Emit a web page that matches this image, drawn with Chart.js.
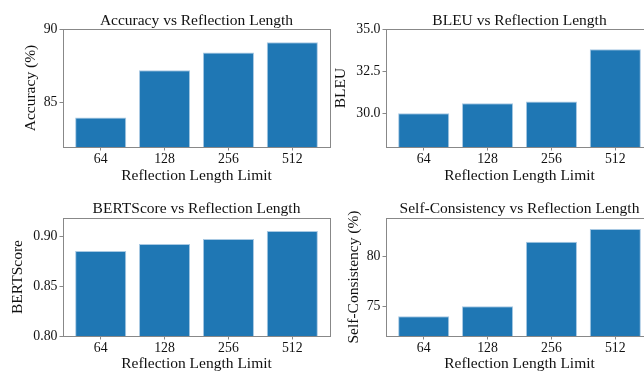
<!DOCTYPE html>
<html>
<head>
<meta charset="utf-8">
<script src="https://cdn.jsdelivr.net/npm/chart.js@4.4.1/dist/chart.umd.min.js"></script>
<style>
  html, body { margin: 0; padding: 0; background: #fff; overflow: hidden; width: 644px; height: 371px; }
  .panel { position: absolute; width: 340px; height: 200px; }
</style>
</head>
<body>
<div class="panel" style="left:0;top:0"><canvas id="acc"></canvas></div>
<div class="panel" style="left:322px;top:0"><canvas id="bleu"></canvas></div>
<div class="panel" style="left:0;top:190px"><canvas id="bert"></canvas></div>
<div class="panel" style="left:322px;top:190px"><canvas id="sc"></canvas></div>
<script>
// reflection length limits (x categories)
const lengthLabels = ["64", "128", "256", "512"];

// series values
const accuracy = [84.0, 87.2, 88.4, 89.1];
const bleu = [30.0, 30.6, 30.7, 33.8];
const bertScore = [0.885, 0.892, 0.897, 0.905];
const selfConsistency = [74.0, 75.0, 81.5, 82.8];

// y tick values
const accTicks = [85, 90];
const bleuTicks = [30.0, 32.5, 35.0];
const bertTicks = [0.80, 0.85, 0.90];
const scTicks = [75, 80];

const serif = "'Liberation Serif', 'Times New Roman', serif";
const textColor = "#111";
const spineColor = "#888";

// draw the box round the axes like matplotlib spines
const frame = {
  id: "frame",
  afterDatasetsDraw(chart) {
    const { ctx, chartArea: a } = chart;
    ctx.save();
    ctx.strokeStyle = spineColor;
    ctx.lineWidth = 1;
    ctx.strokeRect(Math.round(a.left) + 0.5, Math.round(a.top) + 0.5,
      Math.round(a.right - a.left), Math.round(a.bottom - a.top));
    ctx.restore();
  }
};

function makeChart(id, cfg) {
  const ctx = document.getElementById(id);
  return new Chart(ctx, {
    type: "bar",
    data: {
      datasets: [{
        data: cfg.values.map((v, i) => ({ x: i, y: v })),
        backgroundColor: "#1f77b4",
        borderColor: "#a8c9e3",
        borderWidth: 1,
        barPercentage: 0.8,
        categoryPercentage: 1
      }]
    },
    options: {
      responsive: true,
      maintainAspectRatio: false,
      animation: false,
      layout: { padding: { left: 0, right: cfg.padRight, top: 0, bottom: 0 } },
      plugins: {
        legend: { display: false },
        tooltip: { enabled: false },
        title: {
          display: true,
          fullSize: false,
          text: cfg.title,
          color: textColor,
          font: { family: serif, size: 15.5, weight: "normal", lineHeight: 1.2 },
          padding: { top: cfg.titleTop, bottom: cfg.titleBottom }
        }
      },
      scales: {
        x: {
          type: "linear",
          min: -0.59,
          max: 3.59,
          offset: false,
          afterBuildTicks: (s) => { s.ticks = lengthLabels.map((_, i) => ({ value: i })); },
          afterFit: (s) => { s.height = cfg.xHeight; },
          ticks: {
            callback: (v) => lengthLabels[v],
            color: textColor,
            font: { family: serif, size: 13.8, lineHeight: 1 },
            padding: 2,
            maxRotation: 0,
            autoSkip: false
          },
          grid: { offset: false, drawOnChartArea: false, drawTicks: true, tickLength: 3.5, color: spineColor },
          border: { display: false },
          title: {
            display: true,
            text: "Reflection Length Limit",
            color: textColor,
            font: { family: serif, size: 15.5, lineHeight: 1.2 },
            padding: { top: 0, bottom: cfg.xTitlePad }
          }
        },
        y: {
          min: cfg.yMin,
          max: cfg.yMax,
          afterBuildTicks: (s) => { s.ticks = cfg.yTicks.map((v) => ({ value: v })); },
          afterFit: (s) => { s.width = cfg.yWidth; },
          ticks: {
            callback: (v) => v.toFixed(cfg.decimals),
            color: textColor,
            font: { family: serif, size: 13.8, lineHeight: 1 },
            padding: 2
          },
          grid: { drawOnChartArea: false, drawTicks: true, tickLength: 3.5, color: spineColor },
          border: { display: false },
          title: {
            display: true,
            text: cfg.yTitle,
            color: textColor,
            font: { family: serif, size: 15.5, lineHeight: 1.2 },
            padding: { top: cfg.yTitlePad, bottom: 0 }
          }
        }
      }
    },
    plugins: [frame]
  });
}

makeChart("acc", {
  values: accuracy, title: "Accuracy vs Reflection Length", yTitle: "Accuracy (%)",
  yMin: 82, yMax: 90, yTicks: accTicks, decimals: 0,
  yWidth: 63, padRight: 10, xHeight: 53, titleTop: 11.4, titleBottom: -1,
  xTitlePad: 14.8, yTitlePad: 21.8
});

makeChart("bleu", {
  values: bleu, title: "BLEU vs Reflection Length", yTitle: "BLEU",
  yMin: 28, yMax: 35, yTicks: bleuTicks, decimals: 1,
  yWidth: 64, padRight: 9, xHeight: 53, titleTop: 11.4, titleBottom: -1,
  xTitlePad: 14.8, yTitlePad: 10.1
});

makeChart("bert", {
  values: bertScore, title: "BERTScore vs Reflection Length", yTitle: "BERTScore",
  yMin: 0.80, yMax: 0.918, yTicks: bertTicks, decimals: 2,
  yWidth: 63, padRight: 10, xHeight: 54, titleTop: 9.9, titleBottom: -0.5,
  xTitlePad: 16.5, yTitlePad: 8.7
});

makeChart("sc", {
  values: selfConsistency, title: "Self-Consistency vs Reflection Length", yTitle: "Self-Consistency (%)",
  yMin: 72, yMax: 83.9, yTicks: scTicks, decimals: 0,
  yWidth: 64, padRight: 9, xHeight: 54, titleTop: 9.9, titleBottom: -0.5,
  xTitlePad: 16.5, yTitlePad: 22.7
});
</script>
</body>
</html>
